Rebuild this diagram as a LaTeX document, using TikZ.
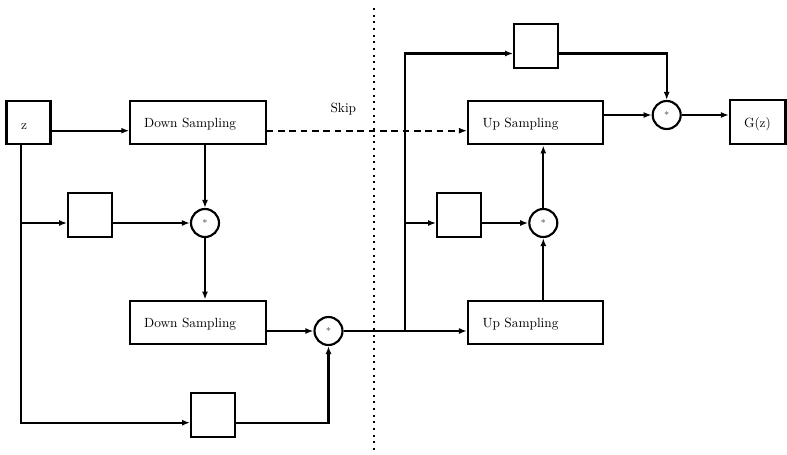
\documentclass[tikz,border=0pt]{standalone}
\usetikzlibrary{arrows.meta,calc}
\begin{document}
\begin{tikzpicture}[x=0.75pt,y=-0.75pt, line width=1.6pt,
  box/.style={draw, rectangle, inner sep=0pt, line width=1.6pt},
  wide/.style={box, minimum width=101.5pt, minimum height=32.8pt},
  small/.style={box, minimum width=32.8pt, minimum height=32.8pt},
  mult/.style={draw, circle, inner sep=0pt, minimum size=21pt, line width=1.6pt, font=\scriptsize, text=black!75},
  lbl/.style={anchor=base west, inner sep=0pt},
  arr/.style={-{Latex[length=6pt,width=4.5pt]}},
  skipline/.style={dash pattern=on 5pt off 3.5pt},
  divider/.style={line width=1.5pt, dash pattern=on 1.5pt off 3.5pt},
]
\useasboundingbox (0,0) rectangle (787,454);
\clip (0,0) rectangle (787,454);

% boxes
\node[box, minimum width=33pt, minimum height=32.8pt] (z) at (28.5,122.5) {};
\node[wide] (ds1) at (198,122.5) {};
\node[wide] (ds2) at (198,322.5) {};
\node[small] (sb1) at (90,215) {};
\node[small] (sb2) at (213,415) {};
\node[small] (sb3) at (459,215) {};
\node[small] (sb4) at (536,46) {};
\node[wide] (us1) at (535.7,122.5) {};
\node[wide] (us2) at (535.7,322.5) {};
\node[box, minimum width=41.6pt, minimum height=32.4pt] (gz) at (757.7,122) {};

% multipliers
\node[mult] (c1) at (205,223) {\raisebox{-1.5pt}{*}};
\node[mult] (c2) at (328.5,331) {\raisebox{-1.5pt}{*}};
\node[mult] (c3) at (543.3,223) {\raisebox{-1.5pt}{*}};
\node[mult] (c4) at (666.7,115) {\raisebox{-1.5pt}{*}};

% texts
\node[lbl] (tz) at (20,129) {z};
\node[lbl] (tds1) at (143,127.5) {Down Sampling};
\node[lbl] (tds2) at (143,327) {Down Sampling};
\node[lbl] (tus1) at (481.5,127.5) {Up Sampling};
\node[lbl] (tus2) at (481.5,327) {Up Sampling};
\node[lbl] (tgz) at (743,127.5) {G(z)};
\node[lbl] (tskip) at (329.5,112.5) {Skip};

% helper coordinates
\coordinate (zl) at (21,0);
\coordinate (vl) at (405,0);
\coordinate (dtop) at (374.3,8);
\coordinate (dbot) at (374.3,460);

% divider
\draw[divider] (dtop) -- (dbot);

% left half
\draw[arr] ($(z.east)+(0,8.2)$) -- ($(ds1.west)+(0,8.2)$);
\draw[arr] (ds1.south -| c1) -- (c1.north);
\draw[arr] (z.south -| zl) |- ($(sb2.west)+(0,7.7)$);
\draw[arr] (zl |- c1) -- (sb1.west |- c1);
\draw[arr] (sb1.east |- c1) -- (c1.west);
\draw[arr] (c1.south) -- (ds2.north -| c1);
\draw[arr] (ds2.east |- c2) -- (c2.west);
\draw[arr] ($(sb2.east)+(0,7.7)$) -| (c2.south);

% skip connection
\draw[arr, skipline] ($(ds1.east)+(0,8.2)$) -- ($(us1.west)+(0,8.2)$);

% right half
\draw[arr] (c2.east) -- (us2.west |- c2);
\draw[arr] (vl |- c2) |- ($(sb4.west)+(0,7.5)$);
\draw[arr] (vl |- c3) -- (sb3.west |- c3);
\draw[arr] (sb3.east |- c3) -- (c3.west);
\draw[arr] (us2.north -| c3) -- (c3.south);
\draw[arr] (c3.north) -- (us1.south -| c3);
\draw[arr] ($(sb4.east)+(0,7.5)$) -| (c4.north);
\draw[arr] (us1.east |- c4) -- (c4.west);
\draw[arr] (c4.east) -- (gz.west |- c4);
\end{tikzpicture}
\end{document}
